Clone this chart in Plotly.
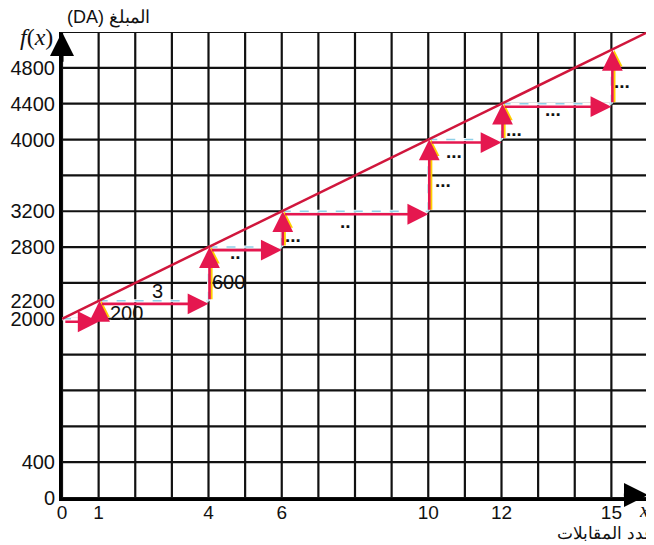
import plotly.graph_objects as go

# ---- data ----
grid_x = list(range(0, 17))
grid_y = list(range(0, 5201, 400))
x_tick_vals = [0, 1, 4, 6, 10, 12, 15]
y_tick_vals = [0, 400, 2000, 2200, 2800, 3200, 4000, 4400, 4800]
line_x = [0, 16]
line_y = [2000, 5200]
step_x = [0, 1, 4, 6, 10, 12, 15]
step_y = [2000, 2200, 2800, 3200, 4000, 4400, 5000]
label_text = ["200", "3", "600"]
label_x = [1.75, 2.6, 4.55]
label_y = [2070, 2310, 2410]
dots_text = ["..", "...", "..", "...", "...", "...", "...", "..."]
dots_x = [4.75, 6.3, 7.75, 10.4, 10.7, 12.35, 13.4, 15.3]
dots_y = [2740, 2930, 3080, 3540, 3870, 4110, 4330, 4650]

RED = "#e5174f"
LINE_RED = "#d0163c"
YEL = "#ffd000"
FONT = "Liberation Sans, Arial"

fig = go.Figure()

# grid
shapes = []
for gx in grid_x:
    shapes.append(dict(type="line", xref="x", yref="y", x0=gx, x1=gx, y0=0, y1=5200,
                       line=dict(color="#111", width=2.2), layer="below"))
for gy in grid_y:
    shapes.append(dict(type="line", xref="x", yref="y", x0=0, x1=16, y0=gy, y1=gy,
                       line=dict(color="#111", width=2.2), layer="below"))
# dashed light-blue guide lines along the steps
for i in range(len(step_x) - 1):
    for (x0, x1, y0, y1) in [(step_x[i], step_x[i + 1], step_y[i], step_y[i]),
                             (step_x[i + 1], step_x[i + 1], step_y[i], step_y[i + 1])]:
        shapes.append(dict(type="line", xref="x", yref="y", x0=x0, x1=x1, y0=y0, y1=y1,
                           line=dict(color="white", width=3), layer="below"))
        shapes.append(dict(type="line", xref="x", yref="y", x0=x0, x1=x1, y0=y0, y1=y1,
                           line=dict(color="#8fd0e8", width=1.5, dash="dash"), layer="below"))

# main line
fig.add_trace(go.Scatter(x=line_x, y=line_y, mode="lines",
                         line=dict(color=LINE_RED, width=2.5), hoverinfo="skip", showlegend=False))

annotations = []
# staircase arrows
for i in range(len(step_x) - 1):
    # horizontal
    annotations.append(dict(x=step_x[i + 1], y=step_y[i], ax=step_x[i] + 0.05, ay=step_y[i],
                            xref="x", yref="y", axref="x", ayref="y", text="", showarrow=True,
                            arrowhead=2, arrowsize=1.6, arrowwidth=2.6, arrowcolor=RED, yshift=-3))
    # vertical
    annotations.append(dict(x=step_x[i + 1], y=step_y[i + 1], ax=step_x[i + 1], ay=step_y[i],
                            xref="x", yref="y", axref="x", ayref="y", text="", showarrow=True,
                            arrowhead=2, arrowsize=1.5, arrowwidth=2.2, arrowcolor=YEL, xshift=3))
    annotations.append(dict(x=step_x[i + 1], y=step_y[i + 1], ax=step_x[i + 1], ay=step_y[i],
                            xref="x", yref="y", axref="x", ayref="y", text="", showarrow=True,
                            arrowhead=2, arrowsize=1.6, arrowwidth=2.6, arrowcolor=RED, xshift=1))

# axis arrows
annotations.append(dict(x=0, y=5200, ax=0, ay=4850, xref="x", yref="y", axref="x", ayref="y",
                        text="", showarrow=True, arrowhead=2, arrowsize=1.6, arrowwidth=3,
                        arrowcolor="black"))
annotations.append(dict(x=16, y=0, ax=15.3, ay=0, xref="x", yref="y", axref="x", ayref="y",
                        text="", showarrow=True, arrowhead=2, arrowsize=1.6, arrowwidth=3,
                        arrowcolor="black", yshift=3))

for t, lx, ly in zip(label_text, label_x, label_y):
    annotations.append(dict(x=lx, y=ly, text=t, showarrow=False, xref="x", yref="y",
                            font=dict(family=FONT, size=20, color="#111")))
for t, lx, ly in zip(dots_text, dots_x, dots_y):
    annotations.append(dict(x=lx, y=ly, text="<b>" + t + "</b>", showarrow=False, xref="x", yref="y",
                            font=dict(family=FONT, size=19, color="#111")))

# axis titles
annotations.append(dict(x=-0.0427, y=0.989, xref="paper", yref="paper", xanchor="center", yanchor="middle",
                        text="<i>f</i>(<i>x</i>)",
                        showarrow=False, font=dict(family="Liberation Serif", size=24, color="#111")))
annotations.append(dict(x=0.080, y=1.031, xref="paper", yref="paper", xanchor="center", yanchor="middle",
                        text="(DA) المبلغ",
                        showarrow=False, font=dict(family=FONT, size=18, color="#111")))
annotations.append(dict(x=0.993, y=-0.026, xref="paper", yref="paper", xanchor="center", yanchor="middle",
                        text="<i>x</i>",
                        showarrow=False, font=dict(family="Liberation Serif", size=20, color="#111")))
annotations.append(dict(x=1.0137, y=-0.077, xref="paper", yref="paper", xanchor="right", yanchor="middle",
                        text="عدد المقابلات", showarrow=False,
                        font=dict(family=FONT, size=17, color="#111")))

fig.update_layout(
    width=646, height=537,
    margin=dict(l=54, r=6, t=24, b=47),
    paper_bgcolor="white", plot_bgcolor="white",
    shapes=shapes, annotations=annotations, showlegend=False,
    xaxis=dict(range=[0, 16], tickvals=x_tick_vals, ticktext=[str(v) for v in x_tick_vals],
               automargin=False, ticklabelstandoff=-5,
               showgrid=False, zeroline=False, showline=True, linecolor="black", linewidth=3,
               ticks="", tickfont=dict(family=FONT, size=19, color="#111")),
    yaxis=dict(range=[0, 5200], tickvals=y_tick_vals, ticktext=[str(v) for v in y_tick_vals],
               automargin=False,
               showgrid=False, zeroline=False, showline=True, linecolor="black", linewidth=3,
               ticks="", tickfont=dict(family=FONT, size=20, color="#111")),
)

fig.write_html("out.html")
